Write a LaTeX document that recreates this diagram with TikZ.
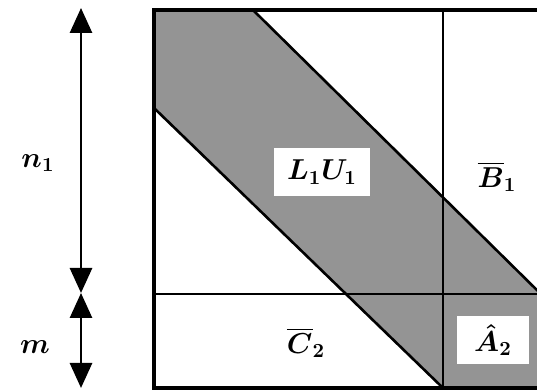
\documentclass[tikz,border=0pt]{standalone}
\usepackage{tikz}
\usetikzlibrary{positioning, arrows.meta}
\usepackage{amsmath}

\begin{document}
\begin{tikzpicture}[
        x=0.5pt, y=-0.5pt,
        frame/.style={line width=1.6pt},
        divide/.style={line width=1.3pt},
        band/.style={fill=black!42},
        label/.style={font=\Large, inner sep=2pt},
        labelbox/.style={label, fill=white, minimum width=48pt, minimum height=24pt},
        dim/.style={{Triangle[length=12.5pt, width=11pt]}-{Triangle[length=12.5pt, width=11pt]}, line width=1.4pt}
    ]
    \useasboundingbox (0,0) rectangle (537,390);

    % shaded band
    \fill[band] (154,10) -- (253,10) -- (545,298) -- (545,388) -- (443,388) -- (154,108) -- cycle;

    % block borders
    \draw[divide] (443,10) -- (443,388);
    \draw[divide] (154,294) -- (545,294);
    \draw[divide] (253,10) -- (545,298);
    \draw[divide] (154,108) -- (443,388);
    \draw[frame] (545,10) -- (154,10) -- (154,388) -- (545,388);

    % block labels
    \node[labelbox] (LU) at (322,172) {$\boldsymbol{L_1U_1}$};
    \node[label] (B) at (497,177) {$\boldsymbol{\overline{B}_1}$};
    \node[label] (C) at (306,343) {$\boldsymbol{\overline{C}_2}$};
    \node[labelbox, minimum width=36pt] (A) at (493,340) {$\boldsymbol{\hat{A}_2}$};

    % dimensions
    \coordinate (top) at (81,8);
    \coordinate (mid) at (81,293);
    \coordinate (bot) at (81,388);
    \draw[dim] (mid) -- (top);
    \draw[dim] (mid) -- (bot);
    \node[label] (n) at (38,163) {$\boldsymbol{n_1}$};
    \node[label] (m) at (35,347) {$\boldsymbol{m}$};

\end{tikzpicture}
\end{document}
